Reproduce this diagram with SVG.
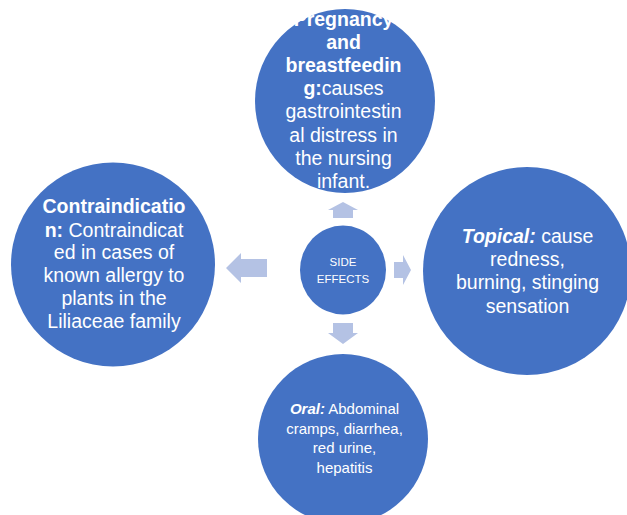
<svg xmlns="http://www.w3.org/2000/svg" width="627" height="515" viewBox="0 0 627 515">
<style>
.c{fill:#4472C4}
.a{fill:#B4C2E4}
text{font-family:"Liberation Sans",Arial,sans-serif;fill:#fff;text-anchor:middle}
.big{font-size:19.5px}
.sm{font-size:15px}
.ctr{font-size:11.5px}
.b{font-weight:bold}
.bi{font-weight:bold;font-style:italic}
</style>
<rect width="627" height="515" fill="#fff"/>
<g id="connectors">
<path class="a" d="M343,202 L358,210 L353,210 L353,218 L333,218 L333,210 L328,210 Z"/>
<path class="a" d="M226,268 L241,253 L241,259 L267,259 L267,277 L241,277 L241,283 Z"/>
<path class="a" d="M411,270 L403,255 L403,262 L394,262 L394,278 L403,278 L403,285 Z"/>
<path class="a" d="M343,344 L358,333 L353,333 L353,323 L333,323 L333,333 L328,333 Z"/>
</g>
<g id="top">
<ellipse class="c" cx="345" cy="101" rx="90" ry="92"/>
<text class="big"><tspan class="b" x="343.5" y="26">Pregnancy</tspan><tspan class="b" x="343.5" y="49">and</tspan><tspan class="b" x="343.5" y="72">breastfeedin</tspan><tspan x="343.5" y="95"><tspan class="b">g:</tspan>causes</tspan><tspan x="343.5" y="118">gastrointestin</tspan><tspan x="343.5" y="142">al distress in</tspan><tspan x="343.5" y="165">the nursing</tspan><tspan x="343.5" y="188">infant.</tspan></text>
</g>
<g id="left">
<circle class="c" cx="113" cy="264.5" r="102"/>
<text class="big"><tspan class="b" x="114" y="213">Contraindicatio</tspan><tspan x="114" y="237"><tspan class="b">n:</tspan> Contraindicat</tspan><tspan x="114" y="259">ed in cases of</tspan><tspan x="114" y="282">known allergy to</tspan><tspan x="114" y="305">plants in the</tspan><tspan x="114" y="328">Liliaceae family</tspan></text>
</g>
<g id="right">
<circle class="c" cx="527" cy="271" r="104"/>
<text class="big"><tspan x="527.5" y="243"><tspan class="bi">Topical:</tspan> cause</tspan><tspan x="527.5" y="266">redness,</tspan><tspan x="527.5" y="289">burning, stinging</tspan><tspan x="527.5" y="313">sensation</tspan></text>
</g>
<g id="bottom">
<circle class="c" cx="343" cy="439" r="85"/>
<text class="sm"><tspan x="344.5" y="414"><tspan class="bi">Oral:</tspan> Abdominal</tspan><tspan x="344.5" y="434">cramps, diarrhea,</tspan><tspan x="344.5" y="453">red urine,</tspan><tspan x="344.5" y="473">hepatitis</tspan></text>
</g>
<g id="center">
<ellipse class="c" cx="343" cy="270" rx="43" ry="44.5"/>
<text class="ctr"><tspan x="343" y="266">SIDE</tspan><tspan x="343" y="283">EFFECTS</tspan></text>
</g>
</svg>
